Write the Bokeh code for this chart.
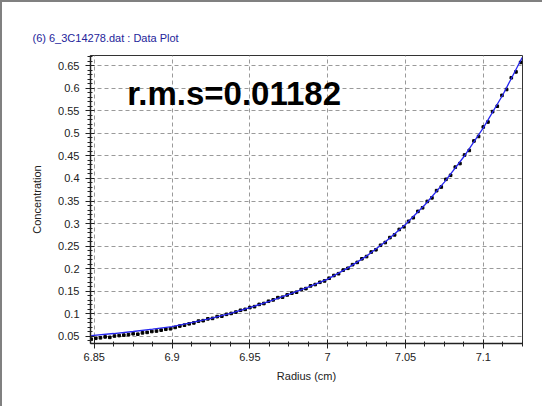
from bokeh.plotting import figure
from bokeh.models import Label, FixedTicker, Range1d
from bokeh.embed import file_html
from bokeh.resources import INLINE

# ---- data ----
radius = [6.848, 6.851, 6.854, 6.857, 6.860, 6.863, 6.866, 6.869, 6.872, 6.875,
          6.878, 6.881, 6.884, 6.887, 6.890, 6.893, 6.896, 6.899, 6.902, 6.905,
          6.908, 6.911, 6.914, 6.917, 6.920, 6.923, 6.926, 6.929, 6.932, 6.935,
          6.938, 6.941, 6.944, 6.947, 6.950, 6.953, 6.956, 6.959, 6.962, 6.965,
          6.968, 6.971, 6.974, 6.977, 6.980, 6.983, 6.986, 6.989, 6.992, 6.995,
          6.998, 7.001, 7.004, 7.007, 7.010, 7.013, 7.016, 7.019, 7.022, 7.025,
          7.028, 7.031, 7.034, 7.037, 7.040, 7.043, 7.046, 7.049, 7.052, 7.055,
          7.058, 7.061, 7.064, 7.067, 7.070, 7.073, 7.076, 7.079, 7.082, 7.085,
          7.088, 7.091, 7.094, 7.097, 7.100, 7.103, 7.106, 7.109, 7.112, 7.115,
          7.118, 7.121, 7.124]
concentration = [0.044, 0.046, 0.047, 0.049, 0.048, 0.051, 0.052, 0.053, 0.054, 0.056,
                 0.055, 0.058, 0.059, 0.061, 0.062, 0.064, 0.066, 0.067, 0.070, 0.073,
                 0.075, 0.078, 0.080, 0.084, 0.085, 0.089, 0.090, 0.094, 0.095, 0.099,
                 0.101, 0.104, 0.108, 0.110, 0.114, 0.116, 0.121, 0.123, 0.128, 0.131,
                 0.136, 0.137, 0.142, 0.146, 0.148, 0.154, 0.156, 0.162, 0.165, 0.170,
                 0.173, 0.179, 0.185, 0.189, 0.197, 0.201, 0.209, 0.214, 0.222, 0.227,
                 0.237, 0.242, 0.252, 0.258, 0.269, 0.275, 0.287, 0.293, 0.305, 0.313,
                 0.327, 0.335, 0.349, 0.357, 0.373, 0.381, 0.398, 0.407, 0.425, 0.433,
                 0.452, 0.462, 0.483, 0.493, 0.514, 0.525, 0.548, 0.560, 0.584, 0.597,
                 0.623, 0.636, 0.657]

fit_radius = [6.848, 6.8625, 6.875, 6.8875, 6.9, 6.9125, 6.925, 6.9375, 6.95, 6.9625,
              6.975, 6.9875, 7.0, 7.0125, 7.025, 7.0375, 7.05, 7.0625, 7.075, 7.0875,
              7.1, 7.1125, 7.125]
fit_concentration = [0.052, 0.0565, 0.061, 0.0663, 0.072, 0.0805, 0.090, 0.1013, 0.114, 0.1277,
                     0.143, 0.1591, 0.177, 0.2009, 0.228, 0.2607, 0.298, 0.3418, 0.392, 0.448,
                     0.512, 0.5848, 0.668]

x_ticks = [6.85, 6.9, 6.95, 7.0, 7.05, 7.1]
x_tick_labels = ["6.85", "6.9", "6.95", "7", "7.05", "7.1"]
y_ticks = [0.05, 0.1, 0.15, 0.2, 0.25, 0.3, 0.35, 0.4, 0.45, 0.5, 0.55, 0.6, 0.65]
y_tick_labels = ["0.05", "0.1", "0.15", "0.2", "0.25", "0.3", "0.35", "0.4", "0.45",
                 "0.5", "0.55", "0.6", "0.65"]

title_text = "(6) 6_3C14278.dat : Data Plot"
rms_text = "r.m.s=0.01182"

FONT = "Liberation Sans"

p = figure(width=542, height=406,
           x_range=Range1d(6.8476, 7.1252), y_range=Range1d(0.0344, 0.6723),
           output_backend="svg", toolbar_location=None,
           min_border_left=88, min_border_right=22,
           min_border_top=53, min_border_bottom=65)
p.background_fill_color = "white"
p.border_fill_color = "white"
p.outline_line_color = "#333333"
p.outline_line_width = 1
p.styles = {"border-left": "2px solid #808080", "border-top": "2px solid #808080",
            "box-sizing": "border-box"}

p.title.text = title_text
p.title.align = "left"
p.title.offset = -58
p.title.standoff = 23
p.title.text_font = FONT
p.title.text_font_size = "11px"
p.title.text_font_style = "normal"
p.title.text_color = "#24249a"

# ticks
x_minor = [6.8375 + 0.0125 * i for i in range(24)]
y_minor = [0.03 + 0.01 * i for i in range(66)]
p.xaxis.ticker = FixedTicker(ticks=x_ticks, minor_ticks=x_minor)
p.yaxis.ticker = FixedTicker(ticks=y_ticks, minor_ticks=y_minor)
p.xaxis.major_label_overrides = dict(zip(x_ticks, x_tick_labels))
p.yaxis.major_label_overrides = dict(zip(y_ticks, y_tick_labels))

for ax in (p.xaxis, p.yaxis):
    ax.axis_line_color = "#222222"
    ax.axis_line_width = 1.5
    ax.major_tick_line_color = "#222222"
    ax.minor_tick_line_color = "#222222"
    ax.major_tick_out = 5
    ax.major_tick_in = 4
    ax.minor_tick_out = 3
    ax.minor_tick_in = 2
    ax.major_label_text_font = FONT
    ax.major_label_text_font_size = "11px"
    ax.major_label_text_color = "#222222"
    ax.axis_label_text_font = FONT
    ax.axis_label_text_font_size = "11px"
    ax.axis_label_text_font_style = "normal"
    ax.axis_label_text_color = "#222222"

p.xaxis.major_label_standoff = 4
p.yaxis.major_label_standoff = 6
p.xaxis.axis_label = "Radius (cm)"
p.yaxis.axis_label = "Concentration"
p.xaxis.axis_label_standoff = 6
p.yaxis.axis_label_standoff = 12

p.grid.grid_line_color = "#9a9a9a"
p.grid.grid_line_dash = "4 3"
p.grid.grid_line_width = 1
p.xgrid.ticker = FixedTicker(ticks=x_ticks)
p.ygrid.ticker = FixedTicker(ticks=y_ticks)

p.scatter(radius, concentration, marker="square", size=2.6, color="black")
p.line(fit_radius, fit_concentration, line_color="#2626f0", line_width=1.3)

p.add_layout(Label(x=6.8712, y=0.588, text=rms_text, text_font=FONT,
                   text_font_size="33px", text_font_style="bold", text_color="black",
                   text_baseline="alphabetic", text_align="left"))

open("out.html", "w").write(file_html(p, INLINE))
